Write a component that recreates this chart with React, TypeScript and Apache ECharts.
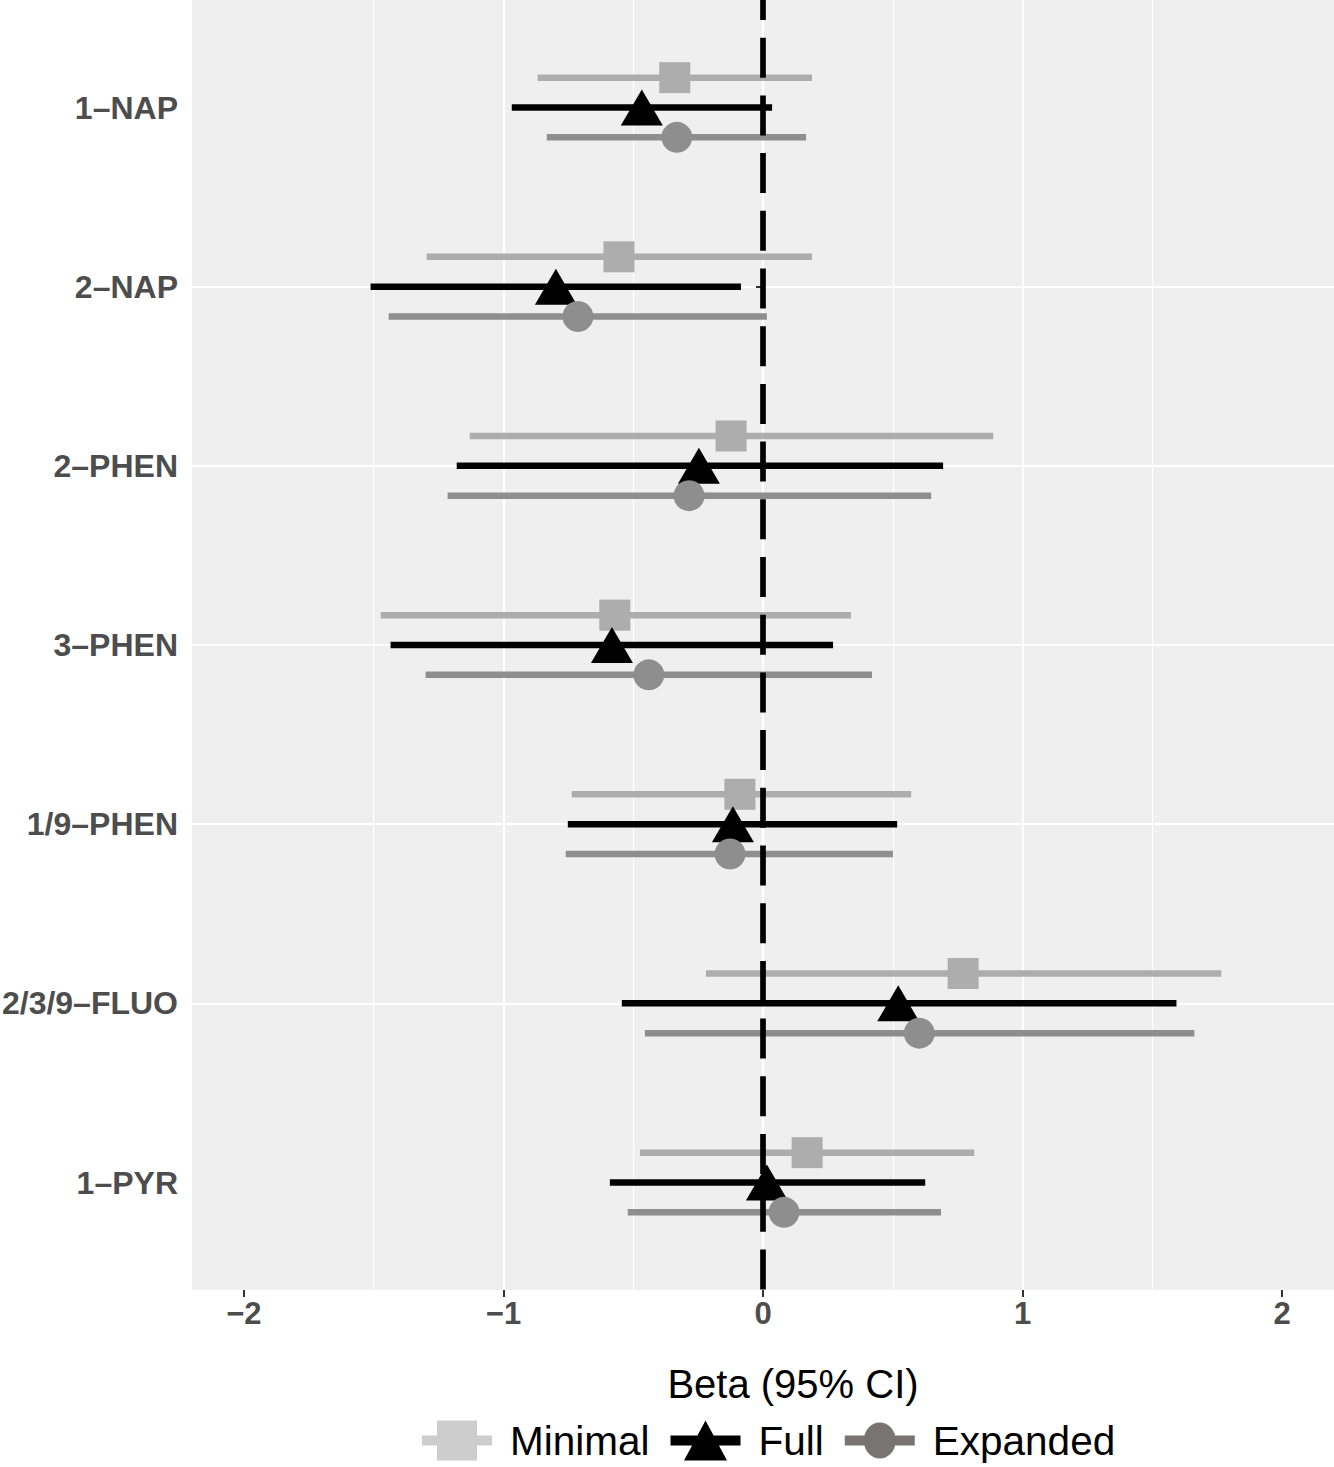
import React, { useEffect, useRef } from "react";
import * as echarts from "echarts";

const categories = ["1–NAP", "2–NAP", "2–PHEN", "3–PHEN", "1/9–PHEN", "2/3/9–FLUO", "1–PYR"];
const seriesNames = ["Minimal", "Full", "Expanded"];

const minimalEst = [-0.34, -0.555, -0.123, -0.571, -0.089, 0.771, 0.17];
const minimalLo = [-0.868, -1.296, -1.13, -1.473, -0.737, -0.22, -0.474];
const minimalHi = [0.189, 0.189, 0.887, 0.339, 0.571, 1.766, 0.814];

const fullEst = [-0.467, -0.798, -0.247, -0.582, -0.116, 0.521, 0.015];
const fullLo = [-0.968, -1.512, -1.18, -1.435, -0.752, -0.544, -0.59];
const fullHi = [0.035, -0.085, 0.694, 0.27, 0.517, 1.593, 0.625];

const expandedEst = [-0.332, -0.713, -0.285, -0.44, -0.127, 0.602, 0.081];
const expandedLo = [-0.833, -1.442, -1.215, -1.3, -0.76, -0.455, -0.521];
const expandedHi = [0.166, 0.015, 0.648, 0.42, 0.501, 1.662, 0.686];

const xTicks = [-2, -1, 0, 1, 2];
const xMinorTicks = [-1.5, -0.5, 0.5, 1.5];
const refLine = 0;

const FONT = "'Liberation Sans', Arial, Helvetica, sans-serif";

export default function App() {
  const ref = useRef<HTMLDivElement>(null);

  useEffect(() => {
    if (!ref.current) return;
    const chart = echarts.init(ref.current, null, { renderer: "svg" });
    const yPos = categories.map((_, i) => i + 1);
    const yMin = 0.4;
    const yMax = 7.6;
    const dodge = 1 / 6;

    const groups = [
      { name: "Minimal", est: minimalEst, lo: minimalLo, hi: minimalHi, off: -dodge, color: "#adadad", symbol: "rect", size: [31, 31] },
      { name: "Full", est: fullEst, lo: fullLo, hi: fullHi, off: 0, color: "#000000", symbol: "triangle", size: [42, 36] },
      { name: "Expanded", est: expandedEst, lo: expandedLo, hi: expandedHi, off: dodge, color: "#8e8e8e", symbol: "circle", size: [31, 31] },
    ];

    const series: any[] = [];
    groups.forEach((g) => {
      series.push({
        name: g.name,
        type: "custom",
        z: 2,
        data: yPos.map((y, i) => [g.lo[i], g.hi[i], y + g.off]),
        encode: { x: [0, 1], y: 2 },
        renderItem: (params: any, api: any) => {
          const a = api.coord([api.value(0), api.value(2)]);
          const b = api.coord([api.value(1), api.value(2)]);
          return {
            type: "line",
            shape: { x1: a[0], y1: a[1], x2: b[0], y2: b[1] },
            style: { stroke: g.color, lineWidth: 6.5, lineCap: "butt" },
          };
        },
      });
    });
    groups.forEach((g) => {
      series.push({
        name: g.name,
        type: "scatter",
        z: 4,
        symbol: g.symbol,
        symbolSize: g.size,
        itemStyle: { color: g.color, opacity: 1 },
        data: yPos.map((y, i) => [g.est[i], y + g.off]),
      });
    });
    // minor vertical grid lines
    series.push({
      name: "minorGrid",
      type: "scatter",
      data: [],
      z: 1,
      markLine: {
        z: 1,
        silent: true,
        symbol: ["none", "none"],
        label: { show: false },
        lineStyle: { color: "#ffffff", width: 1.2, type: "solid" },
        data: xMinorTicks.map((v) => ({ xAxis: v })),
      },
    });
    // dashed reference line at 0, drawn top to bottom
    series.push({
      name: "refLine",
      type: "line",
      z: 3,
      silent: true,
      symbol: "none",
      lineStyle: { color: "#000000", width: 5.7, type: [40, 17.7], dashOffset: 20, cap: "butt" },
      data: [
        [refLine, yMin],
        [refLine, yMax],
      ],
    });

    const legendColors: Record<string, string> = { Minimal: "#cdcdcd", Full: "#000000", Expanded: "#787474" };
    const legendIcons: Record<string, string> = {
      Minimal: "path://M0,15 L70,15 L70,25 L0,25 Z M15,0 L55,0 L55,40 L15,40 Z",
      Full: "path://M0,15 L70,15 L70,25 L0,25 Z M13.5,40 L35,0 L56.5,40 Z",
      Expanded: "path://M0,15 L70,15 L70,25 L0,25 Z M19,20 A16,18 0 1,1 51,20 A16,18 0 1,1 19,20 Z",
    };

    chart.setOption({
      animation: false,
      backgroundColor: "#ffffff",
      textStyle: { fontFamily: FONT },
      grid: {
        left: 192,
        right: 0,
        top: 0,
        bottom: 177,
        show: true,
        backgroundColor: "#efefef",
        borderWidth: 0,
        containLabel: false,
        outerBoundsMode: "none",
      },
      xAxis: {
        type: "value",
        min: -2.2,
        max: 2.2,
        name: "Beta (95% CI)",
        nameLocation: "middle",
        nameGap: 74,
        nameTextStyle: { fontSize: 40, color: "#000000", fontFamily: FONT, padding: [0, 0, 0, 60] },
        axisLine: { show: false },
        axisTick: { show: true, length: 7, customValues: xTicks, lineStyle: { color: "#333333", width: 2 } },
        axisLabel: {
          customValues: xTicks,
          fontSize: 31,
          fontWeight: "bold",
          color: "#4d4d4d",
          margin: 8,
          fontFamily: FONT,
          formatter: (v: number) => (v < 0 ? "\u2212" + Math.abs(v) : String(v)),
        },
        splitLine: { show: true, customValues: xTicks, showMinLine: false, showMaxLine: false, lineStyle: { color: "#ffffff", width: 2.2 } },
      },
      yAxis: {
        type: "value",
        min: yMin,
        max: yMax,
        inverse: true,
        axisLine: { show: false },
        axisTick: { show: true, length: 7, customValues: yPos, lineStyle: { color: "#333333", width: 2 } },
        axisLabel: {
          customValues: yPos,
          fontSize: 32,
          fontWeight: "bold",
          color: "#4d4d4d",
          margin: 14,
          fontFamily: FONT,
          formatter: (v: number) => categories[Math.round(v) - 1] ?? "",
        },
        splitLine: { show: true, customValues: yPos, showMinLine: false, showMaxLine: false, lineStyle: { color: "#ffffff", width: 2.2 } },
      },
      legend: {
        left: 422,
        top: 1420,
        padding: 0,
        orient: "horizontal",
        itemWidth: 70,
        itemHeight: 40,
        itemGap: 21,
        textStyle: { fontSize: 40.5, color: "#000000", fontFamily: FONT, padding: [0, 0, 0, 13] },
        data: seriesNames.map((n) => ({
          name: n,
          icon: legendIcons[n],
          itemStyle: { color: legendColors[n], borderWidth: 0 },
        })),
        selectedMode: false,
      },
      series,
    });
    return () => chart.dispose();
  }, []);

  return (
    <div
      ref={ref}
      style={{ position: "absolute", left: 0, top: 0, width: 1334, height: 1467 }}
    />
  );
}
